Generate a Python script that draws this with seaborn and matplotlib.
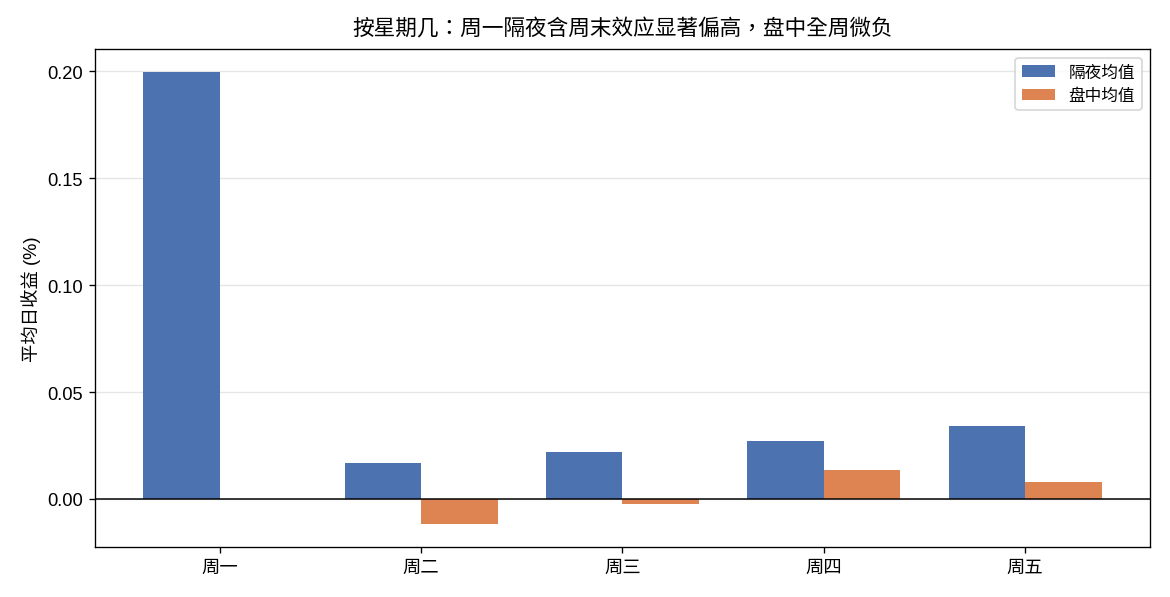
import pandas as pd
import matplotlib
matplotlib.use("Agg")
import matplotlib.pyplot as plt
import seaborn as sns

# 按星期几的平均日收益 (%)
days = ["周一", "周二", "周三", "周四", "周五"]
overnight = [0.1998, 0.0167, 0.0218, 0.0271, 0.0340]
intraday = [0.0, -0.0117, -0.0024, 0.0136, 0.0079]
series_names = ["隔夜均值", "盘中均值"]

df = pd.DataFrame({
    "day": days * 2,
    "ret": overnight + intraday,
    "kind": [series_names[0]] * len(days) + [series_names[1]] * len(days),
})

plt.rcParams["font.family"] = ["Liberation Sans", "Noto Sans CJK SC", "DejaVu Sans"]
plt.rcParams["axes.unicode_minus"] = False

fig, ax = plt.subplots(figsize=(9.75, 4.983), dpi=120)
sns.barplot(data=df, x="day", y="ret", hue="kind", palette="deep",
            width=0.76, saturation=1, linewidth=0, edgecolor="none",
            ax=ax, zorder=2)

ax.axhline(0, color="black", linewidth=0.9, zorder=3)
ax.grid(axis="y", color="#e5e5e5", linewidth=0.8, zorder=0)
ax.set_axisbelow(True)
ax.set_xlim(-0.62, 4.62)
ax.set_yticks([0.0, 0.05, 0.10, 0.15, 0.20])
ax.set_yticklabels(["0.00", "0.05", "0.10", "0.15", "0.20"])
ax.set_ylim(-0.0224, 0.2104)
ax.tick_params(axis="both", labelsize=11, length=3.5, colors="black")
ax.set_xlabel("")
ax.set_ylabel("平均日收益 (%)", fontsize=11)
ax.set_title("按星期几：周一隔夜含周末效应显著偏高，盘中全周微负", fontsize=13, pad=9,
             family=["Liberation Sans", "Noto Sans CJK TC", "DejaVu Sans"])
for s in ax.spines.values():
    s.set_color("black")
    s.set_linewidth(0.8)
ax.legend(title=None, loc="upper right", fontsize=10, frameon=True)

fig.subplots_adjust(left=0.081, right=0.983, top=0.916, bottom=0.084)
fig.savefig("out.png", dpi=120)
